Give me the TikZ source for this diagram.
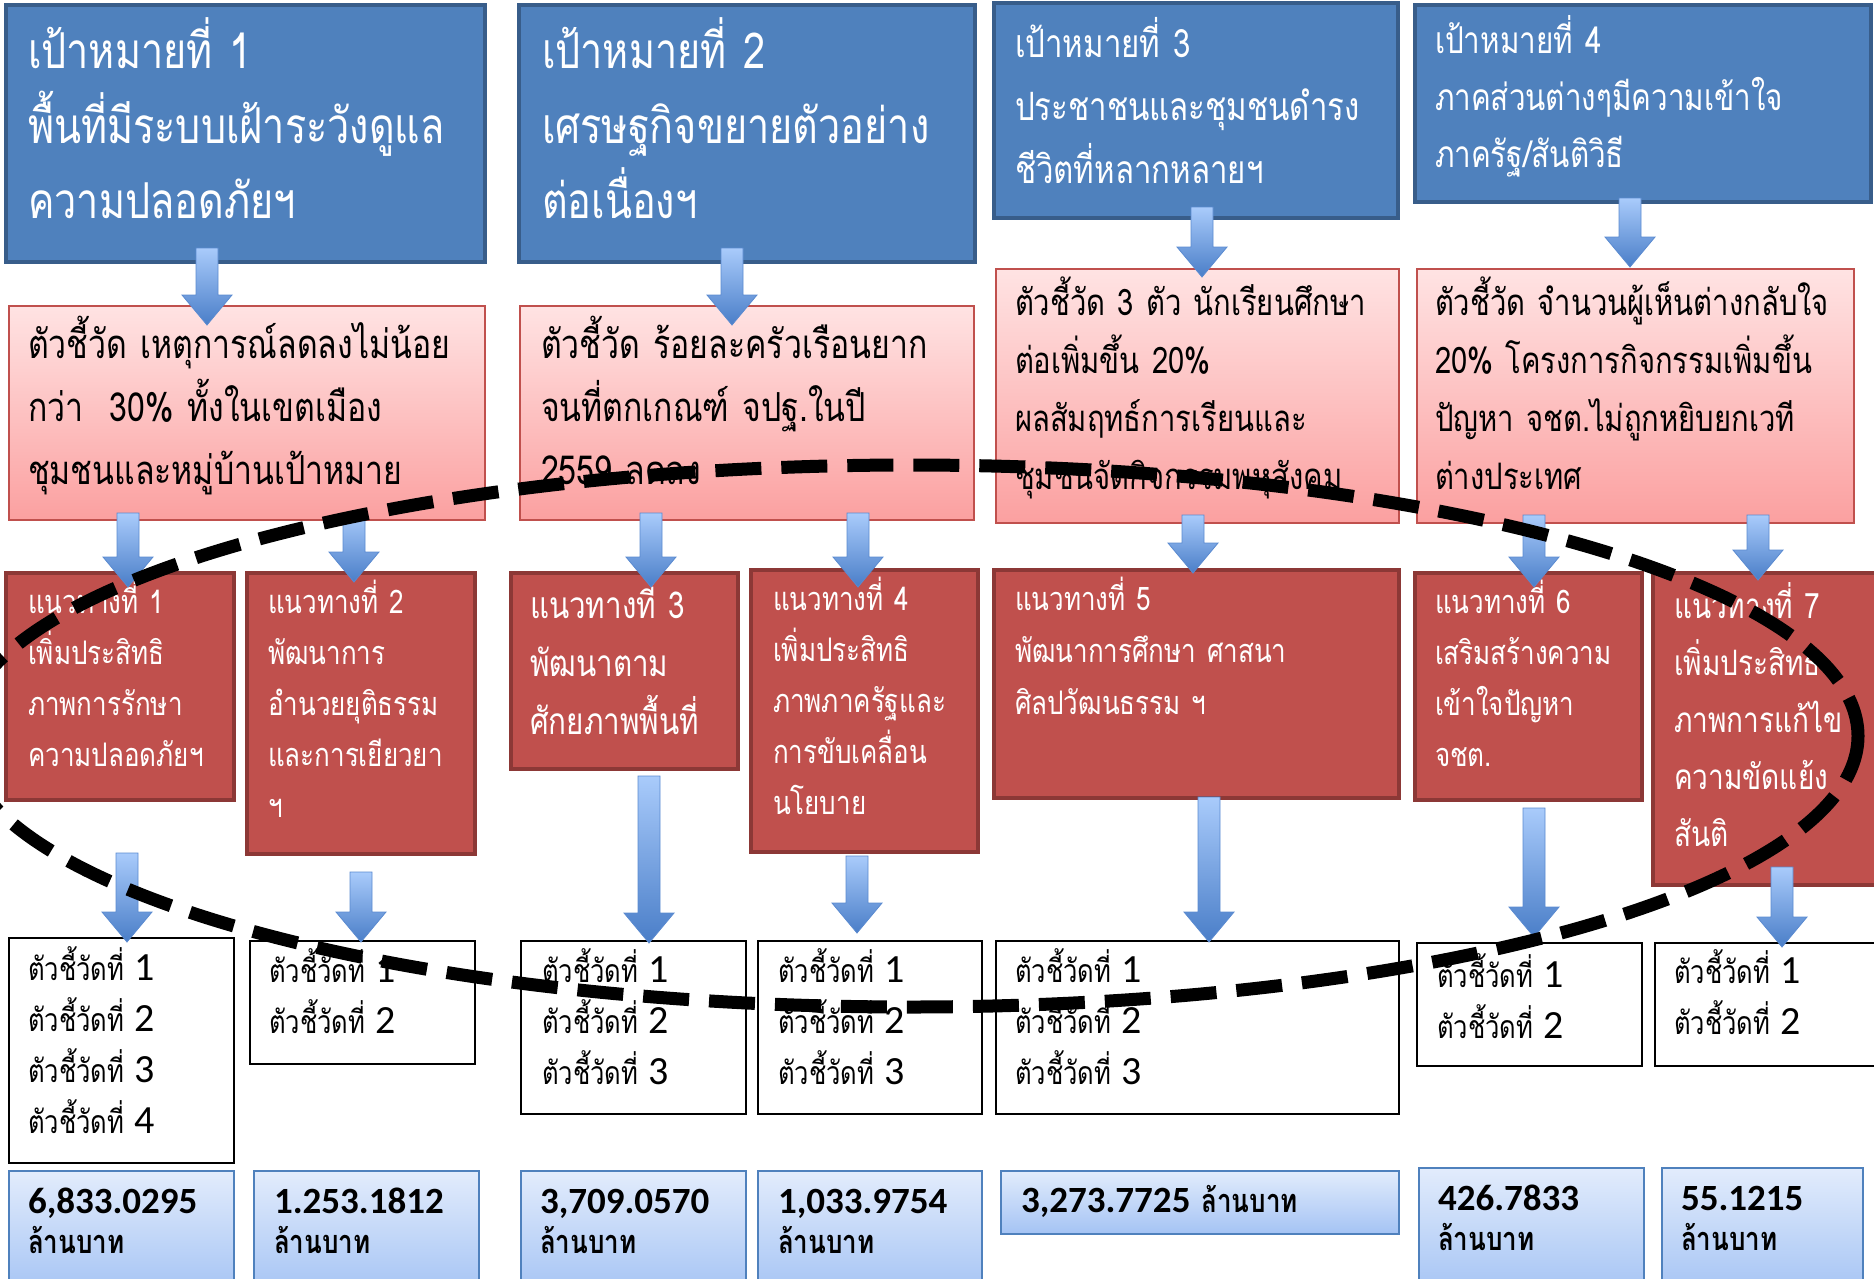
\documentclass[tikz,border=0pt]{standalone}
\usepackage{fontspec}
\setmainfont[Script=Thai, FakeStretch=0.8]{Loma}
\newfontfamily\numfont{Carlito}
\usetikzlibrary{fit,calc}
\definecolor{goalfill}{HTML}{4F81BD}
\definecolor{goalline}{HTML}{385D8A}
\definecolor{indtop}{HTML}{FFE3E3}
\definecolor{indbot}{HTML}{FBA0A0}
\definecolor{indline}{HTML}{C0504D}
\definecolor{appfill}{HTML}{C0504D}
\definecolor{appline}{HTML}{8C3836}
\definecolor{budtop}{HTML}{E2ECFC}
\definecolor{budbot}{HTML}{A4C3F4}
\definecolor{budline}{HTML}{4F81BD}
\definecolor{arrtop}{HTML}{A9CBFB}
\definecolor{arrbot}{HTML}{4A7EC8}
\definecolor{arrline}{HTML}{5A8AD0}
\tikzset{
  every node/.style={inner sep=0pt, outer sep=0pt},
  goalbox/.style={draw=goalline, line width=4pt, fill=goalfill},
  indbox/.style={draw=indline, line width=2pt, top color=indtop, bottom color=indbot},
  appbox/.style={draw=appline, line width=4pt, fill=appfill},
  kpibox/.style={draw=black, line width=2pt, fill=white},
  budbox/.style={draw=budline, line width=2pt, top color=budtop, bottom color=budbot},
  txt/.style={anchor=base west, align=left, text width=600pt},
  gtxt/.style={txt, text=white, font=\fontsize{49.5}{75}\selectfont},
  gtxtb/.style={txt, text=white, font=\fontsize{39}{63}\selectfont},
  itxt/.style={txt, text=black, font=\fontsize{40}{63}\selectfont},
  itxtb/.style={txt, text=black, font=\fontsize{36.5}{58}\selectfont},
  atxt/.style={txt, text=white, font=\fontsize{32.5}{51}\selectfont},
  atxtb/.style={txt, text=white, font=\fontsize{37}{58}\selectfont},
  ktxt/.style={txt, text=black, font=\fontsize{32}{51}\selectfont},
  btxt/.style={txt, text=black, font=\fontsize{32.5}{40}\selectfont\bfseries},
  arrowshape/.style={top color=arrtop, bottom color=arrbot, draw=arrline, line width=0.8pt},
  ellipsedash/.style={draw=black, line width=13pt, dash pattern=on 46pt off 20pt},
}
\newcommand\num[1]{{\numfont\bfseries\fontsize{37}{40}\selectfont #1}}
\newcommand\kd[1]{{\numfont\fontsize{40}{51}\selectfont #1}}
\newcommand\blockarrow[5]{%
  \path[arrowshape] let \p1=(#1.south), \p2=(#2.north),
    \n1={#3-11}, \n2={#3+11}, \n3={#3-25}, \n4={#3+25},
    \n5={\y1+(#4)}, \n6={\y2-(#5)+30}, \n7={\y2-(#5)} in
    (\n1pt,\n5) -- (\n2pt,\n5) -- (\n2pt,\n6) -- (\n4pt,\n6)
    -- (#3pt,\n7) -- (\n3pt,\n6) -- (\n1pt,\n6) -- cycle;}
\begin{document}
\begin{tikzpicture}[x=1pt,y=-1pt]
\useasboundingbox (0,0) rectangle (1874,1278);
% goal boxes
\node[goalbox, fit={(6,5) (485,262)}] (g1) {};
\node[goalbox, fit={(519,5) (975,262)}] (g2) {};
\node[goalbox, fit={(994,3) (1398,218)}] (g3) {};
\node[goalbox, fit={(1415,5) (1871,202)}] (g4) {};
% indicator boxes
\node[indbox, fit={(9,306) (485,520)}] (i1) {};
\node[indbox, fit={(520,306) (974,520)}] (i2) {};
\node[indbox, fit={(996,269) (1399,523)}] (i3) {};
\node[indbox, fit={(1417,269) (1854,523)}] (i4) {};
% approach boxes
\node[appbox, fit={(6,573) (234,800)}] (a1) {};
\node[appbox, fit={(247,573) (475,854)}] (a2) {};
\node[appbox, fit={(511,573) (738,769)}] (a3) {};
\node[appbox, fit={(751,570) (978,852)}] (a4) {};
\node[appbox, fit={(994,570) (1399,798)}] (a5) {};
\node[appbox, fit={(1415,573) (1642,800)}] (a6) {};
\node[appbox, fit={(1653,573) (1890,885)}] (a7) {};
% kpi boxes
\node[kpibox, fit={(9,938) (234,1163)}] (k1) {};
\node[kpibox, fit={(250,941) (475,1064)}] (k2) {};
\node[kpibox, fit={(521,941) (746,1114)}] (k3) {};
\node[kpibox, fit={(758,941) (982,1114)}] (k4) {};
\node[kpibox, fit={(996,941) (1399,1114)}] (k5) {};
\node[kpibox, fit={(1417,943) (1642,1066)}] (k6) {};
\node[kpibox, fit={(1655,943) (1880,1066)}] (k7) {};
% budget boxes
\node[budbox, fit={(9,1171) (234,1295)}] (b1) {};
\node[budbox, fit={(254,1171) (479,1295)}] (b2) {};
\node[budbox, fit={(521,1171) (746,1295)}] (b3) {};
\node[budbox, fit={(758,1171) (982,1295)}] (b4) {};
\node[budbox, fit={(1001,1171) (1399,1234)}] (b5) {};
\node[budbox, fit={(1419,1168) (1644,1295)}] (b6) {};
\node[budbox, fit={(1662,1168) (1863,1295)}] (b7) {};
% texts
\node[gtxt] (g1t) at (28,68) {เป้าหมายที่ 1\\พื้นที่มีระบบเฝ้าระวังดูแล\\ความปลอดภัยฯ};
\node[gtxt] (g2t) at (542,68) {เป้าหมายที่ 2\\เศรษฐกิจขยายตัวอย่าง\\ต่อเนื่องฯ};
\node[gtxtb] (g3t) at (1015,57) {เป้าหมายที่ 3\\ประชาชนและชุมชนดำรง\\ชีวิตที่หลากหลายฯ};
\node[gtxtb, font=\fontsize{37}{57}\selectfont] (g4t) at (1435,53) {เป้าหมายที่ 4\\ภาคส่วนต่างๆมีความเข้าใจ\\ภาครัฐ/สันติวิธี};
\node[itxt] (i1t) at (28,358) {ตัวชี้วัด เหตุการณ์ลดลงไม่น้อย\\กว่า\ \ 30\% ทั้งในเขตเมือง\\ชุมชนและหมู่บ้านเป้าหมาย};
\node[itxt] (i2t) at (541,358) {ตัวชี้วัด ร้อยละครัวเรือนยาก\\จนที่ตกเกณฑ์ จปฐ.ในปี\\2559 ลดลง};
\node[itxtb] (i3t) at (1015,315) {ตัวชี้วัด 3 ตัว นักเรียนศึกษา\\ต่อเพิ่มขึ้น 20\%\\ผลสัมฤทธ์การเรียนและ\\ชุมชนจัดกิจกรรมพหุสังคม};
\node[itxtb] (i4t) at (1435,315) {ตัวชี้วัด จำนวนผู้เห็นต่างกลับใจ\\20\% โครงการกิจกรรมเพิ่มขึ้น\\ปัญหา จชต.ไม่ถูกหยิบยกเวที\\ต่างประเทศ};
\node[atxt] (a1t) at (28,613) {แนวทางที่ 1\\เพิ่มประสิทธิ\\ภาพการรักษา\\ความปลอดภัยฯ};
\node[atxt] (a2t) at (268,613) {แนวทางที่ 2\\พัฒนาการ\\อำนวยยุติธรรม\\และการเยียวยา\\ฯ};
\node[atxtb] (a3t) at (530,618) {แนวทางที่ 3\\พัฒนาตาม\\ศักยภาพพื้นที่};
\node[atxt] (a4t) at (773,610) {แนวทางที่ 4\\เพิ่มประสิทธิ\\ภาพภาครัฐและ\\การขับเคลื่อน\\นโยบาย};
\node[atxt, font=\fontsize{32.5}{52}\selectfont] (a5t) at (1015,610) {แนวทางที่ 5\\พัฒนาการศึกษา ศาสนา\\ศิลปวัฒนธรรม ฯ};
\node[atxt] (a6t) at (1435,613) {แนวทางที่ 6\\เสริมสร้างความ\\เข้าใจปัญหา\\จชต.};
\node[atxtb, font=\fontsize{35}{57}\selectfont] (a7t) at (1674,618) {แนวทางที่ 7\\เพิ่มประสิทธิ\\ภาพการแก้ไข\\ความขัดแย้ง\\สันติ};
\node[ktxt] (k1t) at (28,980) {ตัวชี้วัดที่ \kd{1}\\ตัวชี้วัดที่ \kd{2}\\ตัวชี้วัดที่ \kd{3}\\ตัวชี้วัดที่ \kd{4}};
\node[ktxt] (k2t) at (269,982) {ตัวชี้วัดที่ \kd{1}\\ตัวชี้วัดที่ \kd{2}};
\node[ktxt] (k3t) at (542,982) {ตัวชี้วัดที่ \kd{1}\\ตัวชี้วัดที่ \kd{2}\\ตัวชี้วัดที่ \kd{3}};
\node[ktxt] (k4t) at (778,982) {ตัวชี้วัดที่ \kd{1}\\ตัวชี้วัดที่ \kd{2}\\ตัวชี้วัดที่ \kd{3}};
\node[ktxt] (k5t) at (1015,982) {ตัวชี้วัดที่ \kd{1}\\ตัวชี้วัดที่ \kd{2}\\ตัวชี้วัดที่ \kd{3}};
\node[ktxt] (k6t) at (1437,987) {ตัวชี้วัดที่ \kd{1}\\ตัวชี้วัดที่ \kd{2}};
\node[ktxt] (k7t) at (1674,983) {ตัวชี้วัดที่ \kd{1}\\ตัวชี้วัดที่ \kd{2}};
\node[btxt] (b1t) at (28,1213) {\num{6,833.0295}\\ล้านบาท};
\node[btxt] (b2t) at (274,1213) {\num{1.253.1812}\\ล้านบาท};
\node[btxt] (b3t) at (540,1213) {\num{3,709.0570}\\ล้านบาท};
\node[btxt] (b4t) at (778,1213) {\num{1,033.9754}\\ล้านบาท};
\node[btxt] (b5t) at (1021,1212) {\num{3,273.7725} ล้านบาท};
\node[btxt] (b6t) at (1438,1210) {\num{426.7833}\\ล้านบาท};
\node[btxt] (b7t) at (1681,1210) {\num{55.1215}\\ล้านบาท};
% block arrows
\blockarrow{g1}{i1}{207}{14}{19}
\blockarrow{g2}{i2}{732}{14}{19}
\blockarrow{g3}{i3}{1202}{11}{8}
\blockarrow{g4}{i4}{1630}{4}{-2}
\blockarrow{i1}{a1}{128}{7}{14}
\blockarrow{i1}{a2}{354}{7}{9}
\blockarrow{i2}{a3}{651}{7}{14}
\blockarrow{i2}{a4}{858}{7}{17}
\blockarrow{i3}{a5}{1193}{8}{3}
\blockarrow{i4}{a6}{1534}{8}{14}
\blockarrow{i4}{a7}{1758}{8}{7}
\blockarrow{a1}{k1}{127}{-53}{4}
\blockarrow{a2}{k2}{361}{-18}{1}
\blockarrow{a3}{k3}{649}{-7}{2}
\blockarrow{a4}{k4}{857}{-4}{-8}
\blockarrow{a5}{k5}{1209}{1}{1}
\blockarrow{a6}{k6}{1534}{-8}{-6}
\blockarrow{a7}{k7}{1782}{18}{4}
% dashed ellipse
\coordinate (ec) at (910,736);
\draw[ellipsedash] (ec) ellipse [x radius=948, y radius=271];
\end{tikzpicture}
\end{document}
